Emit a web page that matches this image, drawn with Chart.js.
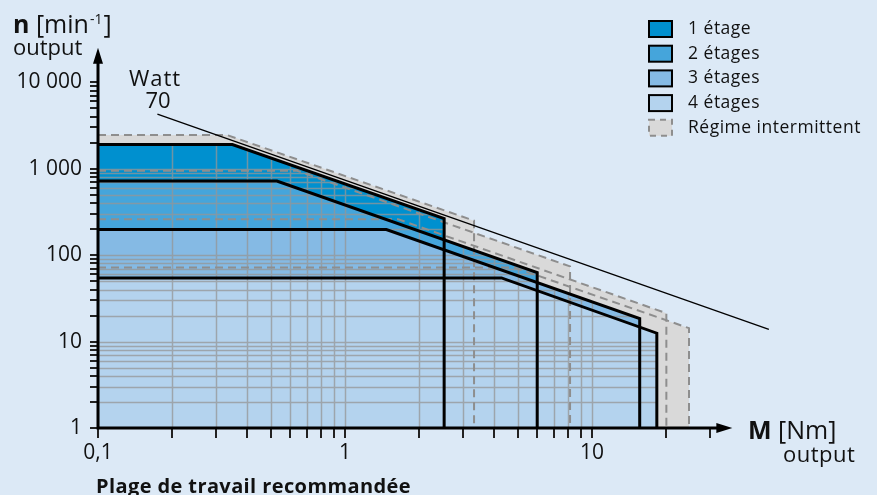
<!DOCTYPE html>
<html>
<head>
<meta charset="utf-8">
<script src="https://cdn.jsdelivr.net/npm/chart.js@4.4.1/dist/chart.umd.min.js"></script>
<style>
  html, body { margin: 0; padding: 0; background: #dce9f6; }
  canvas { display: block; }
</style>
</head>
<body>
<canvas id="chart" width="877" height="495"></canvas>
<script>
// zones: torque M [Nm] and speed n [min-1] along the upper edge, then down to n = 1
var stageNames = ['1 étage', '2 étages', '3 étages', '4 étages'];
var intermittentName = 'Régime intermittent';

var stage1M = [0.1, 0.35, 2.52, 2.52];
var stage1N = [1900, 1900, 264, 1];
var stage2M = [0.1, 0.53, 6.0, 6.0];
var stage2N = [720, 720, 63, 1];
var stage3M = [0.1, 1.47, 15.6, 15.6];
var stage3N = [198, 198, 18.5, 1];
var stage4M = [0.1, 4.3, 18.3, 18.3];
var stage4N = [54.5, 54.5, 12.5, 1];

var interm1M = [0.1, 0.333, 3.33, 3.33];
var interm1N = [2450, 2450, 250, 1];
var interm2M = [0.1, 0.64, 8.15, 8.15];
var interm2N = [944, 944, 74, 1];
var interm3M = [0.1, 1.64, 20, 20];
var interm3N = [260, 260, 21.3, 1];
var interm4M = [0.1, 4.84, 24.7, 24.7];
var interm4N = [72, 72, 14.3, 1];

var wattM = [0.174, 52];
var wattN = [4270, 13.8];

var xMajorValues = [0.1, 1, 10];
var xMajorLabels = ['0,1', '1', '10'];
var yMajorValues = [1, 10, 100, 1000, 10000];
var yMajorLabels = ['1', '10', '100', '1 000', '10 000'];

var stageColors = ['#0090cf', '#45a5db', '#85bae4', '#b4d3ee'];
var intermColor = '#d9d9d9';
var dashColor = '#8e8e8e';
var bgColor = '#dce9f6';
var fontFamily = '"Open Sans", "DejaVu Sans", sans-serif';

function toPoints(ms, ns) {
    var pts = [];
    for (let i = 0; i < ms.length; i++) {
        pts.push({x: ms[i], y: ns[i]});
    }
    return pts;
}

function wholeSteps(limit) {
    return function(axis) {
        axis.ticks = axis.ticks.filter(function(t) {
            var mag = Math.pow(10, Math.floor(Math.log10(t.value) + 1e-9));
            var s = t.value / mag;
            return t.value <= limit * 1.0001 && Math.abs(s - Math.round(s)) < 1e-6;
        });
    };
}

function majorLabel(values, labels) {
    return function(value) {
        for (let i = 0; i < values.length; i++) {
            if (Math.abs(values[i] - value) < values[i] * 1e-6) return labels[i];
        }
        return '';
    };
}

var stageSets = [
    {m: stage1M, n: stage1N},
    {m: stage2M, n: stage2N},
    {m: stage3M, n: stage3N},
    {m: stage4M, n: stage4N}
];

function zone(label, ms, ns, fillColor) {
    return {
        label: label,
        data: toPoints(ms, ns),
        showLine: true,
        fill: 'start',
        backgroundColor: fillColor,
        borderColor: '#000',
        borderWidth: 3,
        borderJoinStyle: 'miter',
        pointRadius: 0,
        tension: 0
    };
}

function intermZone(ms, ns) {
    return {
        label: intermittentName,
        data: toPoints(ms, ns),
        showLine: true,
        fill: 'start',
        backgroundColor: intermColor,
        borderColor: dashColor,
        borderWidth: 2,
        borderDash: [8, 5],
        pointRadius: 0,
        tension: 0
    };
}

function spaced(ctx, px) {
    if ('letterSpacing' in ctx) ctx.letterSpacing = px + 'px';
}

// paint background
var background = {
    id: 'background',
    beforeDraw: function(chart) {
        var ctx = chart.ctx;
        ctx.save();
        ctx.fillStyle = bgColor;
        ctx.fillRect(0, 0, chart.width, chart.height);
        ctx.restore();
    }
};

// grid only inside the blue zones
var innerGrid = {
    id: 'innerGrid',
    beforeDatasetsDraw: function(chart) {
        var ctx = chart.ctx, xs = chart.scales.x, ys = chart.scales.y;
        var area = chart.chartArea;
        ctx.save();
        ctx.beginPath();
        stageSets.forEach(function(s) {
            var last = s.m.length - 1;
            ctx.moveTo(xs.getPixelForValue(s.m[0]), ys.getPixelForValue(s.n[0]));
            for (let i = 1; i <= last; i++) {
                ctx.lineTo(xs.getPixelForValue(s.m[i]), ys.getPixelForValue(s.n[i]));
            }
            ctx.lineTo(xs.getPixelForValue(s.m[0]), ys.getPixelForValue(s.n[last]));
            ctx.closePath();
        });
        ctx.clip();
        ctx.beginPath();
        xs.ticks.forEach(function(t) {
            var px = Math.round(xs.getPixelForValue(t.value)) + 0.5;
            ctx.moveTo(px, area.top);
            ctx.lineTo(px, area.bottom);
        });
        ys.ticks.forEach(function(t) {
            var py = Math.round(ys.getPixelForValue(t.value)) + 0.5;
            ctx.moveTo(area.left, py);
            ctx.lineTo(area.right, py);
        });
        ctx.strokeStyle = 'rgba(150,150,150,0.75)';
        ctx.lineWidth = 1.5;
        ctx.stroke();
        ctx.restore();
    }
};

// axes with arrows, legend and texts
var decorations = {
    id: 'decorations',
    afterDraw: function(chart) {
        var ctx = chart.ctx, xs = chart.scales.x, ys = chart.scales.y;
        var x0 = xs.getPixelForValue(0.1), y0 = ys.getPixelForValue(1);
        var xEnd = xs.getPixelForValue(37), yEnd = ys.getPixelForValue(25000);
        ctx.save();
        ctx.strokeStyle = '#000';
        ctx.fillStyle = '#000';
        ctx.lineWidth = 3;
        ctx.lineCap = 'butt';
        ctx.beginPath();
        ctx.moveTo(x0, y0);
        ctx.lineTo(x0, yEnd + 12);
        ctx.moveTo(x0 - 1.5, y0);
        ctx.lineTo(xEnd - 12, y0);
        ctx.stroke();
        ctx.beginPath();
        ctx.moveTo(x0, yEnd);
        ctx.lineTo(x0 - 5, yEnd + 16);
        ctx.lineTo(x0 + 5, yEnd + 16);
        ctx.closePath();
        ctx.moveTo(xEnd, y0);
        ctx.lineTo(xEnd - 16, y0 - 5);
        ctx.lineTo(xEnd - 16, y0 + 5);
        ctx.closePath();
        ctx.fill();

        // legend
        var lx = 649, ly = 21, rowH = 24.7;
        ctx.textBaseline = 'middle';
        ctx.textAlign = 'left';
        ctx.font = '17.5px ' + fontFamily;
        spaced(ctx, 0.5);
        for (let i = 0; i <= stageNames.length; i++) {
            var by = ly + i * rowH;
            if (i < stageNames.length) {
                ctx.fillStyle = stageColors[i];
                ctx.fillRect(lx, by, 23, 16);
                ctx.strokeStyle = '#000';
                ctx.lineWidth = 2;
                ctx.setLineDash([]);
                ctx.strokeRect(lx, by, 23, 16);
            } else {
                ctx.fillStyle = intermColor;
                ctx.fillRect(lx, by, 23, 16);
                ctx.strokeStyle = dashColor;
                ctx.lineWidth = 2;
                ctx.setLineDash([6, 5]);
                ctx.strokeRect(lx, by, 23, 16);
                ctx.setLineDash([]);
            }
            ctx.fillStyle = '#111';
            ctx.fillText(i < stageNames.length ? stageNames[i] : intermittentName, 688, by + 8);
        }
        spaced(ctx, 0);

        ctx.fillStyle = '#111';
        ctx.textBaseline = 'alphabetic';
        // y axis title
        ctx.font = 'bold 25px ' + fontFamily;
        ctx.fillText('n', 13, 33);
        var w = ctx.measureText('n').width;
        ctx.font = '25px ' + fontFamily;
        ctx.fillText(' [min', 13 + w, 33);
        w += ctx.measureText(' [min').width;
        ctx.font = '14px ' + fontFamily;
        ctx.fillText('-1', 13 + w + 1, 24);
        w += ctx.measureText('-1').width + 2;
        ctx.font = '25px ' + fontFamily;
        ctx.fillText(']', 13 + w, 33);
        ctx.font = '22px ' + fontFamily;
        ctx.fillText('output', 13, 55);

        // x axis title
        ctx.font = 'bold 25px ' + fontFamily;
        ctx.fillText('M', 748, 439);
        w = ctx.measureText('M').width;
        ctx.font = '25px ' + fontFamily;
        ctx.fillText(' [Nm]', 748 + w, 439);
        ctx.font = '22px ' + fontFamily;
        spaced(ctx, 0.5);
        ctx.fillText('output', 783, 462);

        // power line label
        ctx.textAlign = 'center';
        ctx.font = '22px ' + fontFamily;
        spaced(ctx, 1);
        ctx.fillText('Watt', 155, 86);
        spaced(ctx, 0);
        ctx.fillText('70', 158, 108);

        ctx.textAlign = 'left';
        ctx.font = 'bold 20px ' + fontFamily;
        spaced(ctx, 0.4);
        ctx.fillText('Plage de travail recommandée', 96, 493);
        spaced(ctx, 0);
        ctx.restore();
    }
};

var tickFont = {family: fontFamily, size: 21};

var chart = new Chart(document.getElementById('chart').getContext('2d'), {
    type: 'scatter',
    data: {
        datasets: [
            {
                label: 'Watt 70',
                data: toPoints(wattM, wattN),
                showLine: true,
                fill: false,
                borderColor: '#000',
                borderWidth: 1.3,
                pointRadius: 0
            },
            zone(stageNames[3], stage4M, stage4N, stageColors[3]),
            zone(stageNames[2], stage3M, stage3N, stageColors[2]),
            zone(stageNames[1], stage2M, stage2N, stageColors[1]),
            zone(stageNames[0], stage1M, stage1N, stageColors[0]),
            intermZone(interm4M, interm4N),
            intermZone(interm3M, interm3N),
            intermZone(interm2M, interm2N),
            intermZone(interm1M, interm1N)
        ]
    },
    plugins: [background, innerGrid, decorations],
    options: {
        responsive: false,
        animation: false,
        layout: { padding: { top: 41, right: 38, bottom: 0, left: 0 } },
        scales: {
            x: {
                type: 'logarithmic',
                min: 0.1,
                max: 100,
                afterBuildTicks: wholeSteps(30),
                afterFit: function(scale) { scale.height = 67; },
                border: { display: false },
                grid: { drawOnChartArea: false, drawTicks: true, tickLength: 10, tickColor: '#222', lineWidth: 2 },
                ticks: { autoSkip: false, maxRotation: 0, minRotation: 0, padding: 2, font: tickFont, color: '#111',
                         callback: majorLabel(xMajorValues, xMajorLabels) }
            },
            y: {
                type: 'logarithmic',
                min: 1,
                max: 30000,
                afterBuildTicks: wholeSteps(10000),
                afterFit: function(scale) { scale.width = 98; },
                border: { display: false },
                grid: { drawOnChartArea: false, drawTicks: true, tickLength: 8, tickColor: '#222', lineWidth: 2 },
                ticks: { autoSkip: false, padding: 8, font: tickFont, color: '#111',
                         callback: majorLabel(yMajorValues, yMajorLabels) }
            }
        },
        plugins: {
            legend: { display: false },
            tooltip: { enabled: false },
            filler: { drawTime: 'beforeDatasetsDraw' }
        }
    }
});
</script>
</body>
</html>
